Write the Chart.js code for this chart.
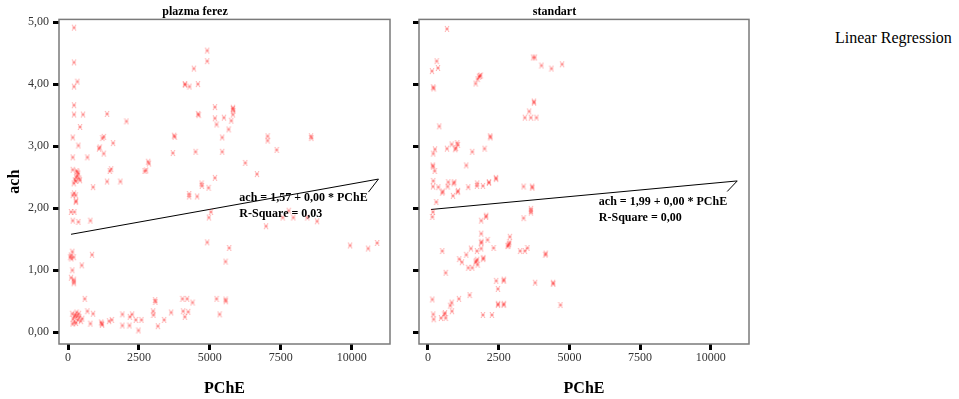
<!DOCTYPE html>
<html lang="en">
<head>
  <meta charset="UTF-8">
  <title>ach vs PChE</title>
  <script src="https://cdn.jsdelivr.net/npm/chart.js"></script>
  <style>
    body {
      margin: 0;
      background: #fff;
      width: 959px;
      height: 399px;
      position: relative;
      overflow: hidden;
    }
    canvas {
      position: absolute;
      top: 0;
    }
    #c1 { left: 0; }
    #c2 { left: 360px; }
    .legend {
      position: absolute;
      left: 835px;
      top: 29px;
      font: 16px "Liberation Serif", serif;
      line-height: 18px;
      color: #000;
    }
  </style>
</head>
<body>
  <canvas id="c1" width="395" height="399"></canvas>
  <canvas id="c2" width="395" height="399"></canvas>
  <div class="legend">Linear Regression</div>
  <script>
    // tick values
    const yTicks = [0, 1, 2, 3, 4, 5];
    const xTicks = [0, 2500, 5000, 7500, 10000];

    // plazma ferez group
    const plazmaPChE = [
      212, 4906, 212, 4906, 4435, 330, 212, 4118, 4130, 4282, 4578, 212, 5177, 212, 530, 1377,
      4589, 4600, 5177, 5495, 5236, 5660, 424, 2060, 165, 1212, 1260, 1118, 1090, 1589, 365, 1259,
      3742, 3760, 3695, 4494, 5436, 5436, 165, 683, 2826, 2850, 2755, 2700, 165, 300, 330, 360,
      280, 240, 400, 330, 420, 1471, 1520, 1377, 1847, 5177, 4706, 5813, 5830, 5813, 5813, 5754,
      7036, 7036, 8567, 8580, 7355, 6248, 6661,
      200, 280, 883, 165, 271, 212, 271, 285, 106, 224, 165, 365, 789, 4271, 4271, 4553, 4718,
      4953, 5036, 4965, 4906, 5683, 5553, 153, 82, 100, 120, 200, 847, 483, 153, 106, 200, 210,
      200, 589, 3071, 3080, 4035, 4200, 4388, 5236, 5553, 5560,
      150, 180, 220, 250, 300, 350, 400, 450, 160, 280, 380, 500, 230, 320, 683, 883, 789, 1189,
      1200, 1170, 1447, 1542, 1918, 1918, 2177, 2260, 2165, 2389, 2483, 2589, 3001, 3012, 3166,
      3389, 3636, 4059, 4118, 4236, 5342,
      6979, 7567, 7779, 7943, 8437, 8779, 9944, 10580, 10897
    ];
    const plazmaAch = [
      4.91, 4.54, 4.35, 4.37, 4.25, 4.04, 3.96, 4.00, 3.99, 3.96, 4.00, 3.66, 3.63, 3.51, 3.51, 3.52,
      3.52, 3.50, 3.45, 3.46, 3.35, 3.27, 3.31, 3.40, 3.14, 3.13, 3.15, 2.98, 2.96, 3.05, 3.01, 2.88,
      3.17, 3.15, 2.89, 2.91, 3.14, 2.91, 2.82, 2.82, 2.75, 2.72, 2.61, 2.60, 2.62, 2.60, 2.58, 2.56,
      2.50, 2.45, 2.48, 2.52, 2.45, 2.60, 2.63, 2.43, 2.43, 2.49, 2.40, 3.60, 3.57, 3.62, 3.51, 3.41,
      3.16, 3.09, 3.16, 3.13, 2.94, 2.73, 2.55,
      2.40, 2.44, 2.34, 2.21, 2.21, 2.24, 2.10, 2.12, 1.94, 1.94, 1.80, 1.78, 1.80, 2.19, 2.23, 2.19, 2.36,
      2.33, 1.94, 1.85, 1.45, 1.36, 1.14, 1.30, 1.21, 1.24, 1.19, 1.21, 1.25, 1.08, 1.00, 0.88, 0.85, 0.82,
      0.79, 0.54, 0.52, 0.49, 0.54, 0.54, 0.48, 0.54, 0.53, 0.50,
      0.30, 0.22, 0.16, 0.28, 0.32, 0.20, 0.25, 0.18, 0.14, 0.15, 0.30, 0.22, 0.25, 0.26, 0.34, 0.30, 0.14, 0.14,
      0.12, 0.16, 0.18, 0.20, 0.29, 0.11, 0.25, 0.29, 0.11, 0.20, 0.03, 0.20, 0.34, 0.28, 0.10,
      0.20, 0.32, 0.34, 0.25, 0.33, 0.29,
      1.71, 1.85, 1.96, 1.85, 1.85, 1.79, 1.40, 1.35, 1.44
    ];

    // standart group
    const standartPChE = [
      671, 306, 353, 141, 188, 195, 1836, 1860, 1800, 1754, 1683, 3777, 3720, 4013, 4366, 4742,
      3742, 3750, 3577, 3424, 3636, 3836, 400, 2201, 2210, 2000, 1565, 1035, 1050, 836, 965, 980,
      671, 247, 188, 1353, 165, 180, 235, 188, 718, 930, 2400, 2410, 2153, 1741,
      177, 365, 506, 520, 694, 906, 883, 1047, 1060, 1424, 1730, 1942, 2153, 3377, 3683, 3690,
      294, 177, 153, 1883, 2048, 2060, 3377, 3636, 3640, 3636,
      1883, 1883, 1890, 2106, 1883, 2318, 2895, 2860, 2880, 2840, 2813, 3259, 3424, 3518, 4154, 4160,
      506, 1518, 1730, 1353, 1106, 1200, 1707, 1740, 1680, 1424, 1565, 1754, 1953, 1960,
      624, 2412, 2672, 2680, 2471, 3789, 4424, 4430, 1471, 1094, 836, 788, 847, 153,
      2471, 2480, 2672, 2680, 4683, 188, 200, 459, 577, 600, 624, 1942, 2259
    ];
    const standartAch = [
      4.89, 4.37, 4.26, 4.21, 3.95, 3.93, 4.13, 4.14, 4.12, 4.08, 4.01, 4.43, 4.43, 4.30, 4.25, 4.32,
      3.72, 3.70, 3.56, 3.46, 3.46, 3.46, 3.32, 3.16, 3.14, 2.96, 2.91, 3.05, 3.02, 3.03, 2.95, 2.97,
      2.96, 2.95, 2.88, 2.69, 2.69, 2.67, 2.60, 2.44, 2.42, 2.42, 2.49, 2.47, 2.42, 2.40,
      2.35, 2.34, 2.25, 2.27, 2.35, 2.40, 2.20, 2.26, 2.28, 2.34, 2.36, 2.36, 2.41, 2.35, 2.35, 2.33,
      2.10, 1.94, 1.86, 1.80, 1.86, 1.88, 1.84, 1.99, 1.96, 1.93,
      1.59, 1.44, 1.46, 1.49, 1.35, 1.36, 1.54, 1.42, 1.45, 1.40, 1.39, 1.31, 1.31, 1.36, 1.25, 1.27,
      1.31, 1.35, 1.31, 1.25, 1.18, 1.13, 1.15, 1.17, 1.13, 1.04, 1.04, 1.09, 1.18, 1.20,
      0.96, 0.83, 0.83, 0.85, 0.70, 0.80, 0.80, 0.78, 0.60, 0.54, 0.48, 0.43, 0.34, 0.53,
      0.44, 0.46, 0.44, 0.46, 0.44, 0.29, 0.21, 0.23, 0.29, 0.31, 0.23, 0.28, 0.28
    ];

    // fitted lines (start, end, label pointer)
    const plazmaFitX = [106, 10943, 10590];
    const plazmaFitY = [1.58, 2.47, 2.26];
    const standartFitX = [106, 10934, 10580];
    const standartFitY = [1.98, 2.44, 2.27];

    const plazmaEq = ['ach = 1,57 + 0,00 * PChE', 'R-Square = 0,03'];
    const standartEq = ['ach = 1,99 + 0,00 * PChE', 'R-Square = 0,00'];

    const serif = '"Liberation Serif", "Times New Roman", serif';

    function makeMarker() {
      const c = document.createElement('canvas');
      c.width = 6;
      c.height = 8;
      const g = c.getContext('2d');
      g.strokeStyle = 'rgba(255,30,30,0.38)';
      g.lineWidth = 1;
      g.beginPath();
      g.moveTo(1, 1); g.lineTo(5, 7);
      g.moveTo(5, 1); g.lineTo(1, 7);
      g.moveTo(1, 4); g.lineTo(5, 4);
      g.stroke();
      return c;
    }
    const marker = makeMarker();

    // frame round the plot area, drawn under the points
    const framePlugin = {
      id: 'frame',
      beforeDatasetsDraw(chart) {
        const { ctx, chartArea: a } = chart;
        ctx.save();
        ctx.strokeStyle = '#7a7a7a';
        ctx.lineWidth = 1.5;
        ctx.strokeRect(a.left, a.top, a.right - a.left, a.bottom - a.top);
        ctx.restore();
      }
    };

    // regression equation text
    const eqPlugin = {
      id: 'eqText',
      afterDatasetsDraw(chart, args, opts) {
        const { ctx, scales } = chart;
        const px = scales.x.getPixelForValue(opts.x);
        const py = scales.y.getPixelForValue(opts.y);
        ctx.save();
        ctx.fillStyle = '#000';
        ctx.font = 'bold 12px ' + serif;
        ctx.textAlign = 'left';
        ctx.textBaseline = 'middle';
        opts.lines.forEach((t, i) => ctx.fillText(t, px, py + i * 15.5));
        ctx.restore();
      }
    };

    function makeChart(id, title, xs, ys, fitX, fitY, eq, showYLabels, padRight) {
      const points = xs.map((x, i) => ({ x: x, y: ys[i] }));
      const fit = fitX.map((x, i) => ({ x: x, y: fitY[i] }));
      return new Chart(document.getElementById(id), {
        type: 'scatter',
        data: {
          datasets: [
            {
              data: points,
              pointStyle: marker,
              pointRadius: 3
            },
            {
              data: fit,
              showLine: true,
              borderColor: '#000',
              borderWidth: 1,
              pointRadius: 0,
              tension: 0
            }
          ]
        },
        options: {
          responsive: false,
          animation: false,
          layout: { padding: { left: 0, right: padRight, top: 0, bottom: 0 } },
          plugins: {
            legend: { display: false },
            tooltip: { enabled: false },
            title: {
              display: true,
              text: title,
              color: '#000',
              font: { family: serif, size: 12, weight: 'bold' },
              padding: { top: 5, bottom: 0 }
            },
            eqText: { x: 6040, y: eq.y, lines: eq.lines }
          },
          scales: {
            x: {
              type: 'linear',
              min: -318,
              max: 11350,
              afterBuildTicks: s => { s.ticks = xTicks.map(v => ({ value: v })); },
              afterFit: s => { s.height = 55; },
              grid: { display: true, drawOnChartArea: false, drawTicks: true, tickLength: 6, lineWidth: 3, color: '#000' },
              border: { display: false },
              ticks: {
                color: '#333',
                padding: 1,
                maxRotation: 0,
                font: { family: serif, size: 12 },
                callback: v => String(v)
              },
              title: {
                display: true,
                text: 'PChE',
                color: '#000',
                font: { family: serif, size: 16, weight: 'bold' },
                padding: { top: 0, bottom: 1 }
              }
            },
            y: {
              type: 'linear',
              min: -0.188,
              max: 5.043,
              afterBuildTicks: s => { s.ticks = yTicks.map(v => ({ value: v })); },
              afterFit: s => { s.width = 59; },
              grid: { display: true, drawOnChartArea: false, drawTicks: true, tickLength: 6, lineWidth: 3, color: '#000' },
              border: { display: false },
              ticks: {
                color: showYLabels ? '#333' : 'rgba(0,0,0,0)',
                padding: 4,
                font: { family: serif, size: 12 },
                callback: v => v.toFixed(2).replace('.', ',')
              },
              title: {
                display: showYLabels,
                text: 'ach',
                color: '#000',
                font: { family: serif, size: 16, weight: 'bold' },
                padding: { top: 5, bottom: 0 }
              }
            }
          }
        },
        plugins: [framePlugin, eqPlugin]
      });
    }

    makeChart('c1', 'plazma ferez', plazmaPChE, plazmaAch, plazmaFitX, plazmaFitY,
      { y: 2.16, lines: plazmaEq }, true, 5);
    makeChart('c2', 'standart', standartPChE, standartAch, standartFitX, standartFitY,
      { y: 2.10, lines: standartEq }, false, 6);
  </script>
</body>
</html>
